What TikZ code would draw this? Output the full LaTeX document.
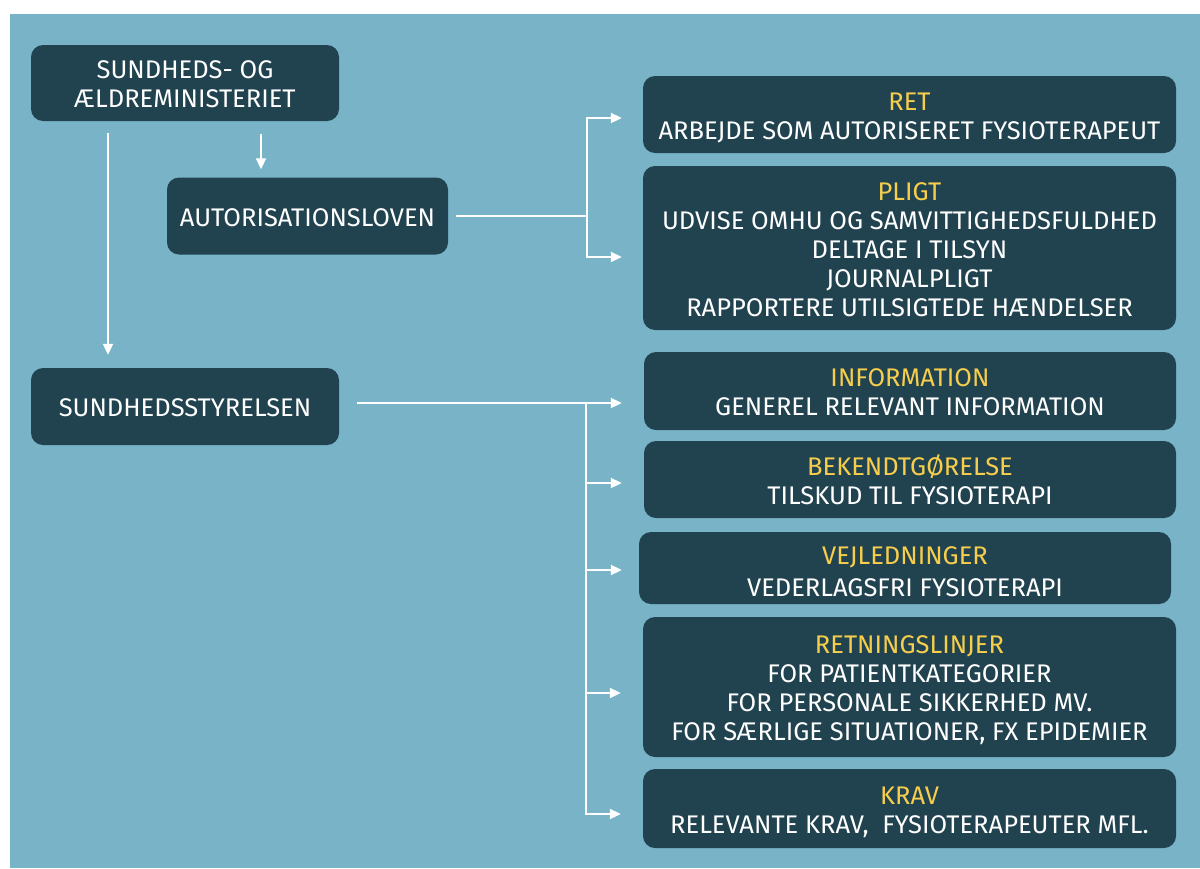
\documentclass[tikz,border=0pt]{standalone}
\usepackage{fontspec}
\setmainfont{Fira Sans}
\usetikzlibrary{arrows.meta}
\definecolor{bgblue}{RGB}{121,179,200}
\definecolor{boxc}{RGB}{33,67,80}
\definecolor{ylw}{RGB}{246,206,76}
\newcommand\sx{\rule[-4.4pt]{0pt}{29pt}}
\newcommand\sxlow{\rule[-1.7pt]{0pt}{29pt}}
\begin{document}
\begin{tikzpicture}[x=1pt,y=-1pt,
  box/.style={fill=boxc, rounded corners=12pt, text=white, align=center,
    font=\fontsize{25.5}{29}\selectfont, inner sep=0pt},
  arr/.style={draw=white, line width=2pt, -{Triangle[length=11pt,width=10pt]}},
  ln/.style={draw=white, line width=2pt}]
\useasboundingbox (0,0) rectangle (1200,868);
\fill[white] (0,0) rectangle (1200,868);
\fill[bgblue] (10,14) rectangle (1200,868);

% left column
\node[box, minimum width=308pt, minimum height=76pt] (min) at (185,83) {\sx SUNDHEDS- OG\\\sx ÆLDREMINISTERIET};
\node[box, minimum width=281pt, minimum height=77pt] (aut) at (307.5,216) {\sx AUTORISATIONSLOVEN};
\node[box, minimum width=308pt, minimum height=77pt] (sst) at (185,406.5) {\sx SUNDHEDSSTYRELSEN};

% right column
\node[box, minimum width=533pt, minimum height=77pt] (ret) at (909.5,114.5)
  {\sx{\color{ylw}RET}\\\sx ARBEJDE SOM AUTORISERET FYSIOTERAPEUT};
\node[box, minimum width=533pt, minimum height=164pt] (pligt) at (909.5,248)
  {\sx{\color{ylw}PLIGT}\\\sx UDVISE OMHU OG SAMVITTIGHEDSFULDHED\\\sx DELTAGE I TILSYN\\\sx JOURNALPLIGT\\\sx RAPPORTERE UTILSIGTEDE HÆNDELSER};
\node[box, minimum width=532pt, minimum height=78pt] (info) at (910,391)
  {\sx{\color{ylw}INFORMATION}\\\sx GENEREL RELEVANT INFORMATION};
\node[box, minimum width=532pt, minimum height=77pt] (bek) at (910,479.5)
  {\sx{\color{ylw}BEKENDTGØRELSE}\\\sx TILSKUD TIL FYSIOTERAPI};
\node[box, minimum width=532pt, minimum height=72pt] (vej) at (905,568)
  {\sxlow{\color{ylw}VEJLEDNINGER}\\\sxlow VEDERLAGSFRI FYSIOTERAPI};
\node[box, minimum width=533pt, minimum height=140pt] (retn) at (909.5,687)
  {\sx{\color{ylw}RETNINGSLINJER}\\\sx FOR PATIENTKATEGORIER\\\sx FOR PERSONALE SIKKERHED MV.\\\sx FOR SÆRLIGE SITUATIONER, FX EPIDEMIER};
\node[box, minimum width=533pt, minimum height=79pt] (krav) at (909.5,808.5)
  {\sx{\color{ylw}KRAV}\\\sx RELEVANTE KRAV,\ \ FYSIOTERAPEUTER MFL.};

% connector coordinates
\coordinate (v1) at (108,0);
\coordinate (v2) at (261,0);
\coordinate (b1) at (587,216);
\coordinate (b1t) at (587,118);
\coordinate (b1b) at (587,257);
\coordinate (s0) at (586,403);
\coordinate (s2) at (586,483);
\coordinate (s3) at (586,570);
\coordinate (s4) at (586,693);
\coordinate (s5) at (586,814);

% top connectors
\draw[arr, shorten <=12pt, shorten >=13pt] (min.south -| v1) -- (sst.north -| v1);
\draw[arr, shorten <=13pt, shorten >=8pt] (min.south -| v2) -- (aut.north -| v2);

% autorisationsloven branch
\draw[ln, shorten <=8pt] (aut.east |- b1) -- (b1);
\draw[arr, shorten >=21pt] (b1) |- (b1t -| ret.west);
\draw[arr, shorten >=21pt] (b1) |- (b1b -| pligt.west);

% sundhedsstyrelsen branch
\draw[arr, shorten <=18pt, shorten >=22pt] (sst.east |- s0) -- (s0 -| info.west);
\draw[arr, shorten >=22pt] (s0) |- (s2 -| bek.west);
\draw[arr, shorten >=17pt] (s0) |- (s3 -| vej.west);
\draw[arr, shorten >=22pt] (s0) |- (s4 -| retn.west);
\draw[arr, shorten >=22pt] (s0) |- (s5 -| krav.west);
\end{tikzpicture}
\end{document}
